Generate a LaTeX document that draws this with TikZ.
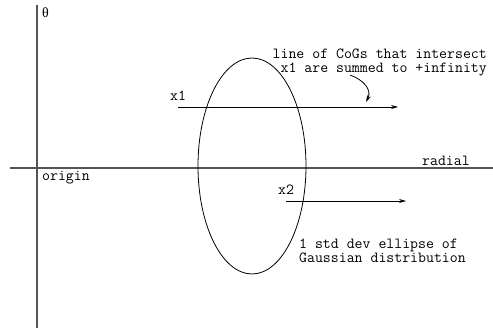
\documentclass[tikz,border=0pt]{standalone}
\usepackage{fontspec}
\newfontfamily\greekfont{Liberation Serif}
\usetikzlibrary{arrows.meta}
\definecolor{axisgray}{HTML}{555555}

\begin{document}
\begin{tikzpicture}[x=1pt, y=-1pt,
    axis/.style={draw=axisgray, line width=1.1pt},
    ray/.style={draw=black, line width=0.8pt, -{Stealth[length=7pt, width=4pt]}},
    lbl/.style={font=\fontsize{15.4}{14}\selectfont\ttfamily, inner sep=0pt},
  ]
  \useasboundingbox (0,0) rectangle (493,331);

  % ---- axes
  \coordinate (vtop) at (37,5);
  \coordinate (vbot) at (37,328);
  \coordinate (hleft) at (10,168);
  \coordinate (hright) at (493,168);
  \draw[axis] (vtop) -- (vbot);
  \draw[axis] (hleft) -- (hright);
  \node[inner sep=0pt, anchor=base west, font=\fontsize{14}{14}\selectfont\greekfont] (theta) at (42,18) {θ};
  \node[lbl, anchor=base west] (origin) at (42,181) {origin};
  \node[lbl, anchor=base west] (radial) at (422,166) {radial};

  % ---- the Gaussian ellipse
  \draw[line width=0.8pt] (252,166) ellipse [x radius=54, y radius=108];

  % ---- the two lines of CoGs
  \coordinate (x1s) at (178,107);
  \coordinate (x1e) at (398,107);
  \coordinate (x2s) at (286,201);
  \coordinate (x2e) at (406,201);
  \draw[ray] (x1s) -- (x1e);
  \draw[ray] (x2s) -- (x2e);
  \node[lbl, anchor=base west] (x1) at (170,101) {x1};
  \node[lbl, anchor=base west] (x2) at (278,195) {x2};

  % ---- notes
  \node[lbl, anchor=base east, align=right] (cognote) at (487,73)
    {line of CoGs that intersect\\x1 are summed to +infinity};
  \node[lbl, anchor=base west, align=left] (ellnote) at (299,263)
    {1 std dev ellipse of\\Gaussian distribution};
  \coordinate (bend) at (350,75);
  \coordinate (bendtip) at (366,102);
  \draw[ray] (bend) .. controls (364,80) and (372,90) .. (bendtip);

\end{tikzpicture}
\end{document}
